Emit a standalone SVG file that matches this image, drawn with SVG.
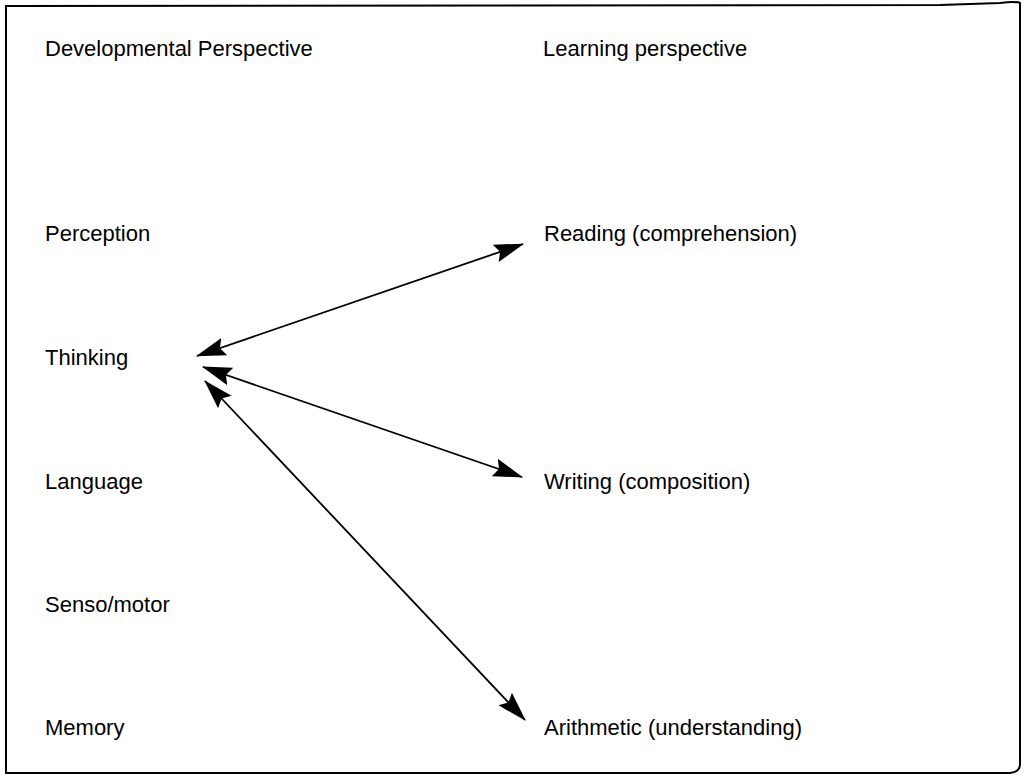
<svg xmlns="http://www.w3.org/2000/svg" width="1027" height="775" viewBox="0 0 1027 775">
<style>
  text { font-family: "Liberation Sans", Arial, Helvetica, sans-serif; font-size: 22px; fill: #000; }
  .conn { stroke: #000; stroke-width: 1.8; fill: none; marker-start: url(#ah); marker-end: url(#ah); }
  .frame { stroke: #000; stroke-width: 2; fill: none; }
</style>
<defs>
  <marker id="ah" markerUnits="userSpaceOnUse" markerWidth="30" markerHeight="20" viewBox="0 0 26 16" refX="25" refY="8" orient="auto-start-reverse">
    <path d="M0,0 L26,8 L0,16 L4,8 z" fill="#000"/>
  </marker>
</defs>
<rect x="0" y="0" width="1027" height="775" fill="#fff"/>
<path class="frame" d="M6,6 L6,773 L1010,773 Q1020,772 1020,764 L1020,3 Q1016,1 1000,3 L940,5 L6,6 z"/>

<g id="heading-dev"><text x="45" y="56">Developmental Perspective</text></g>
<g id="heading-learn"><text x="543" y="56">Learning perspective</text></g>

<g id="perception"><text x="45" y="241">Perception</text></g>
<g id="thinking"><text x="45" y="365">Thinking</text></g>
<g id="language"><text x="45" y="489">Language</text></g>
<g id="senso-motor"><text x="45" y="612">Senso/motor</text></g>
<g id="memory"><text x="45" y="735">Memory</text></g>

<g id="reading"><text x="544" y="241">Reading (comprehension)</text></g>
<g id="writing"><text x="544" y="489">Writing (composition)</text></g>
<g id="arithmetic"><text x="544" y="735">Arithmetic (understanding)</text></g>

<g id="connectors">
  <line class="conn" x1="197" y1="356" x2="523" y2="244"/>
  <line class="conn" x1="203" y1="367" x2="522" y2="477"/>
  <line class="conn" x1="205" y1="381" x2="525" y2="720"/>
</g>
</svg>
